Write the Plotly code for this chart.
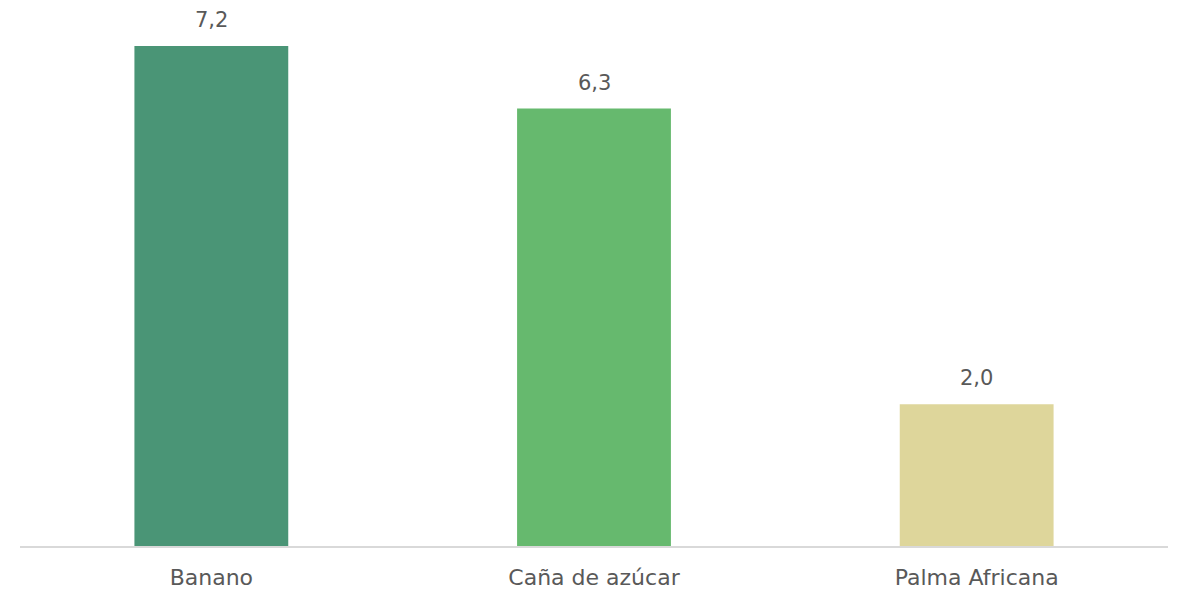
import plotly.graph_objects as go

categories = ["Banano", "Caña de azúcar", "Palma Africana"]
values = [7.2, 6.3, 2.04]
labels = ["7,2", "6,3", "2,0"]
colors = ["#4A9576", "#66B96E", "#DED69B"]

fig = go.Figure(go.Bar(
    x=categories, y=values, marker_color=colors, marker_line_width=0,
    hoverinfo="skip",
))
for c, v, t in zip(categories, values, labels):
    fig.add_annotation(x=c, y=v, text=t, showarrow=False, yanchor="bottom",
                       yshift=12, font=dict(size=21, color="#595959"))

fig.update_layout(
    width=1178, height=589,
    margin=dict(l=20, r=10, t=20, b=43),
    plot_bgcolor="white", paper_bgcolor="white",
    bargap=0.598,
    showlegend=False,
    font=dict(family="DejaVu Sans", size=22, color="#595959"),
)
fig.update_xaxes(showline=True, linecolor="#D9D9D9", linewidth=1.5,
                 ticks="", ticklabelstandoff=11, automargin=False,
                 tickfont=dict(size=22, color="#595959"))
fig.update_yaxes(range=[0, 7.575], visible=False, showgrid=False)

fig.write_html("out.html", config={"displayModeBar": False},
               post_script="document.body.style.margin='0';document.body.style.overflow='hidden';")
